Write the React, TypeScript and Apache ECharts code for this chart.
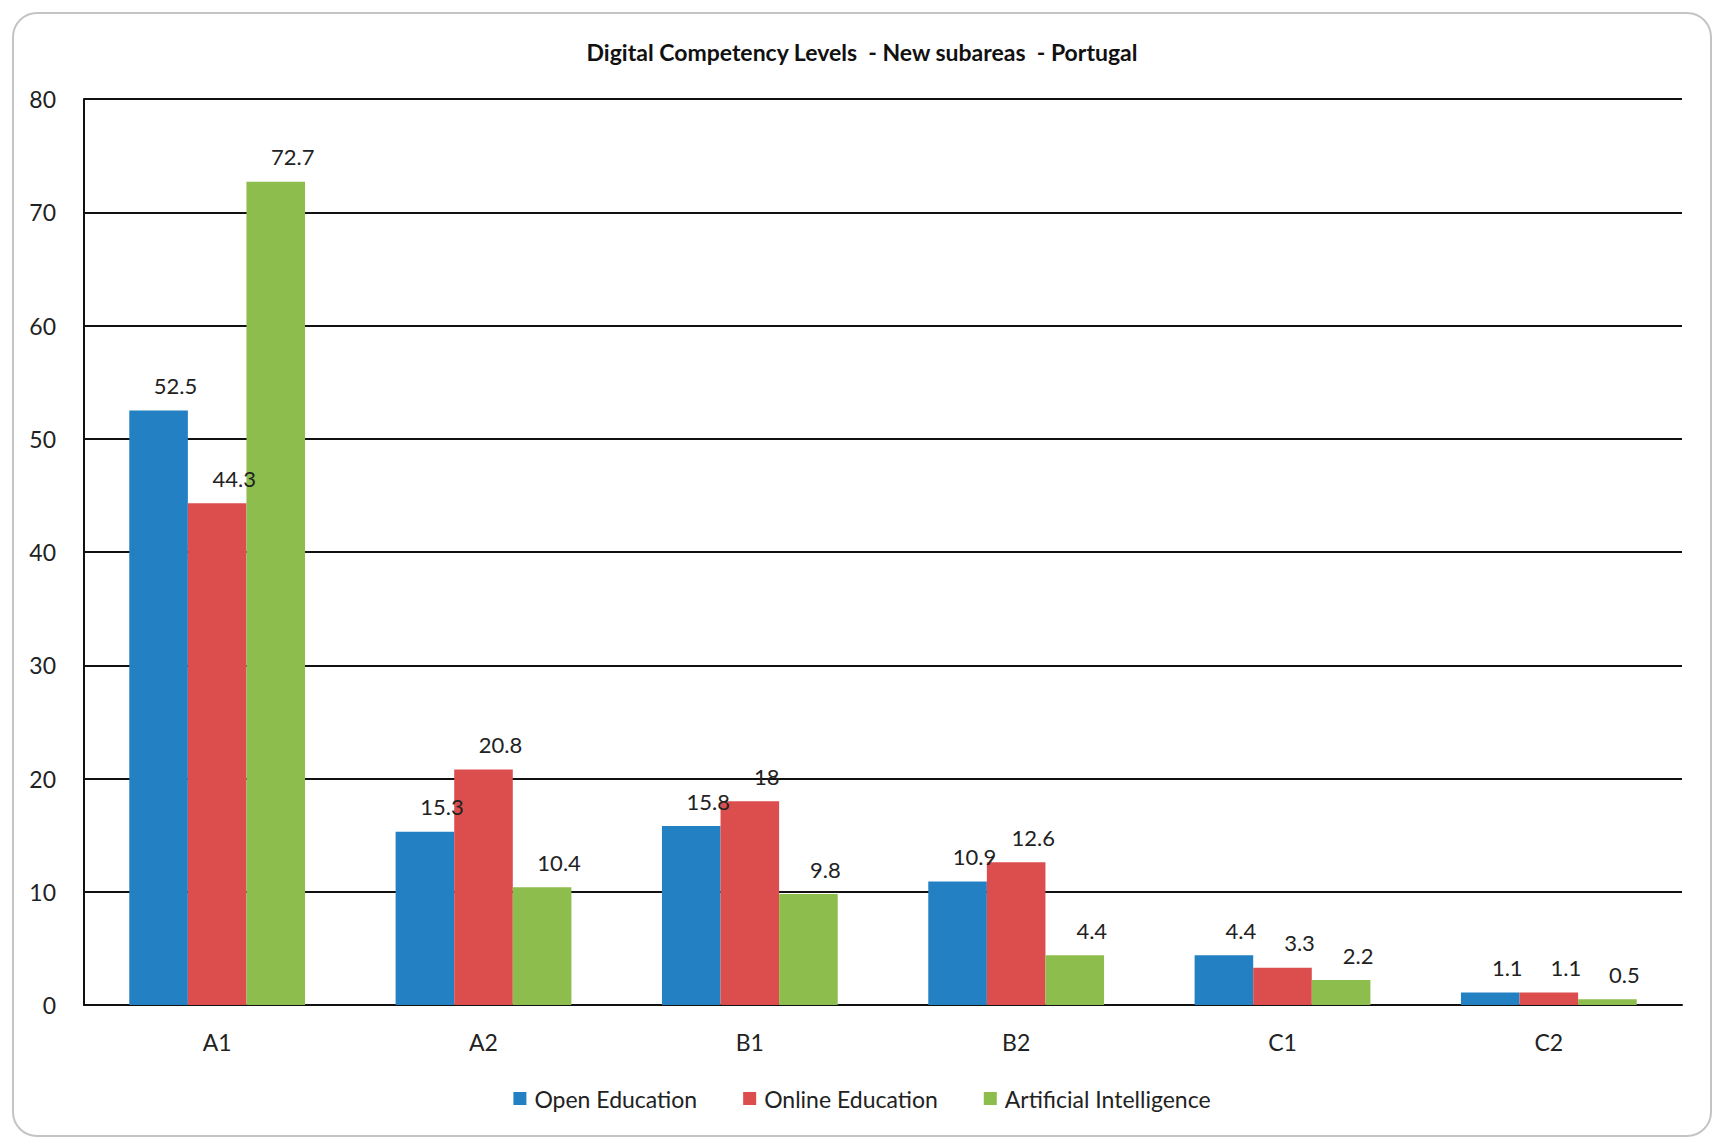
import React, { useEffect, useRef } from "react";
import * as echarts from "echarts";

const categories = ["A1", "A2", "B1", "B2", "C1", "C2"];
const openEducation = [52.5, 15.3, 15.8, 10.9, 4.4, 1.1];
const onlineEducation = [44.3, 20.8, 18, 12.6, 3.3, 1.1];
const artificialIntelligence = [72.7, 10.4, 9.8, 4.4, 2.2, 0.5];
const seriesNames = ["Open Education", "Online Education", "Artificial Intelligence"];
const colors = ["#2380c2", "#dc4e4d", "#8cbd4d"];

const FONT = "Lato, 'Open Sans', sans-serif";

export default function App() {
  const ref = useRef<HTMLDivElement>(null);
  useEffect(() => {
    document.body.style.margin = "0";
    const chart = echarts.init(ref.current!, null, { renderer: "svg" });
    const data = [openEducation, onlineEducation, artificialIntelligence];
    chart.setOption({
      animation: false,
      backgroundColor: "#ffffff",
      textStyle: { fontFamily: FONT },
      title: {
        text: "Digital Competency Levels  - New subareas  - Portugal",
        left: "center",
        top: 35,
        textStyle: { fontFamily: FONT, fontSize: 23, fontWeight: "bold", color: "#111" },
      },
      graphic: [
        {
          type: "rect",
          shape: { x: 13, y: 13, width: 1698, height: 1123, r: 24 },
          style: { fill: "none", stroke: "#c4c4c4", lineWidth: 2 },
          silent: true,
          z: -1,
        },
      ],
      legend: {
        data: seriesNames,
        top: 1082,
        left: "center",
        itemWidth: 13,
        itemHeight: 13,
        itemGap: 46,
        icon: "rect",
        textStyle: { fontFamily: FONT, fontSize: 23, color: "#222", padding: [0, 0, 0, 3] },
      },
      grid: { left: 84, right: 42, top: 99, bottom: 143, containLabel: false },
      xAxis: {
        type: "category",
        data: categories,
        axisLine: { show: true, lineStyle: { color: "#111", width: 2 } },
        axisTick: { show: false },
        axisLabel: { fontFamily: FONT, fontSize: 23, color: "#222", margin: 25 },
      },
      yAxis: {
        type: "value",
        min: 0,
        max: 80,
        interval: 10,
        axisLine: { show: true, lineStyle: { color: "#111", width: 2 } },
        axisTick: { show: false },
        splitLine: { show: true, lineStyle: { color: "#111", width: 2 } },
        axisLabel: { fontFamily: FONT, fontSize: 23, color: "#222", margin: 28 },
      },
      series: seriesNames.map((name, i) => ({
        name,
        type: "bar",
        data: data[i],
        barWidth: "22%",
        barGap: "0%",
        itemStyle: { color: colors[i] },
        label: {
          show: true,
          position: "top",
          distance: 14,
          offset: [17, 0],
          fontFamily: FONT,
          fontSize: 22,
          color: "#222",
        },
        z: 3,
      })),
    });
    return () => chart.dispose();
  }, []);
  return <div ref={ref} style={{ width: 1724, height: 1148 }} />;
}
